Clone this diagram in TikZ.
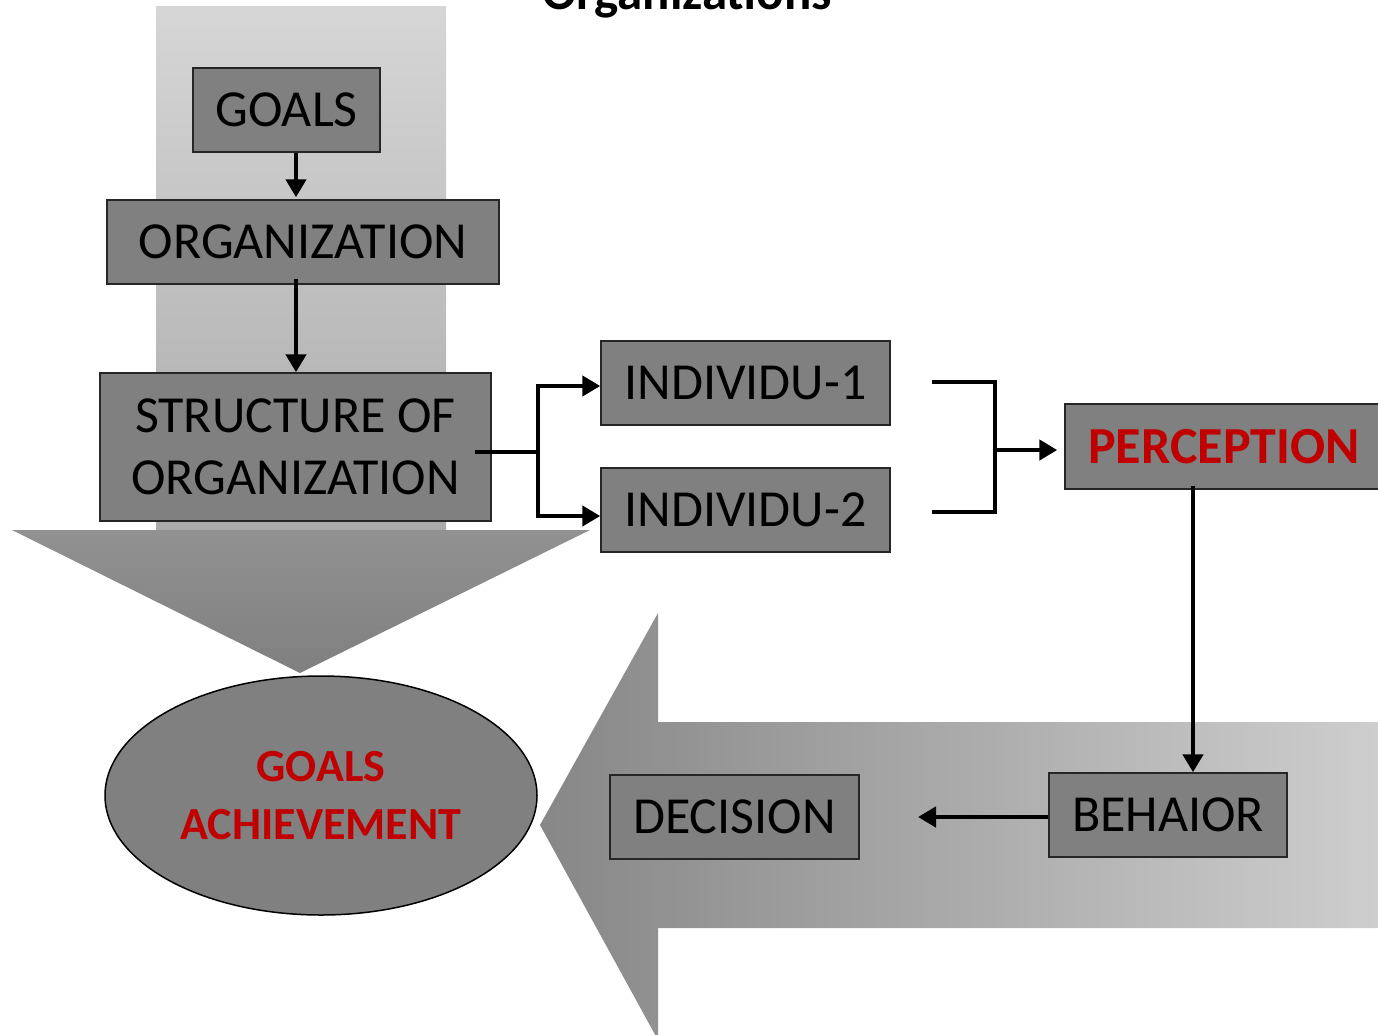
\documentclass[tikz,border=0pt]{standalone}
\usepackage{fontspec}
\setmainfont{Carlito}
\usetikzlibrary{arrows.meta,shapes.geometric}
\definecolor{boxgray}{HTML}{808080}
\definecolor{redtxt}{HTML}{C00000}
\newcommand\bxfont{\fontsize{52}{62}\selectfont}
\begin{document}
\begin{tikzpicture}[x=1pt,y=-1pt,
  bx/.style={draw=black!85, line width=1.5pt, fill=boxgray, inner sep=0pt, font=\bxfont, text=black},
  redbx/.style={bx, font=\bxfont\bfseries, text=redtxt},
  conn/.style={line width=4.5pt, draw=black, line join=miter},
  arr/.style={conn, -{Triangle[length=18pt,width=20pt]}}]
\useasboundingbox (0,0) rectangle (1378,1034);
\clip (0,0) rectangle (1378,1034);
% title (cut off at top, as in the reference)
\node[anchor=base, inner sep=0pt, font=\bfseries\fontsize{51}{60}\selectfont] (title) at (687,9) {Organizations};
% vertical big arrow (shaft + head)
\shade[top color=black!16, bottom color=black!33] (156,6) rectangle (446,530);
\shade[top color=black!43, bottom color=black!50] (12,530) -- (590,530) -- (300,673) -- cycle;
% horizontal big arrow pointing left
\shade[left color=black!47, right color=black!19]
  (1385,722) -- (658,722) -- (658,613) -- (540,825) -- (658,1040) -- (658,928) -- (1385,928) -- cycle;
% nodes
\node[bx, minimum width=187pt, minimum height=84pt] (goals) at (286.5,110) {GOALS};
\node[bx, minimum width=392pt, minimum height=84pt] (org) at (303,242) {ORGANIZATION};
\node[bx, minimum width=391pt, minimum height=148pt, align=center] (struct) at (295.5,447) {STRUCTURE OF\\ORGANIZATION};
\node[bx, minimum width=289pt, minimum height=84pt] (ind1) at (745.5,383) {INDIVIDU-1};
\node[bx, minimum width=289pt, minimum height=84pt] (ind2) at (745.5,510) {INDIVIDU-2};
\node[redbx, minimum width=318pt, minimum height=85pt] (perc) at (1224,446.5) {PERCEPTION};
\node[bx, minimum width=249pt, minimum height=84pt] (dec) at (734.5,817) {DECISION};
\node[bx, minimum width=238pt, minimum height=84pt] (beh) at (1168,815) {BEHAIOR};
\node[ellipse, draw=black, line width=1.5pt, fill=boxgray, inner sep=0pt,
  minimum width=432pt, minimum height=239pt, align=center,
  font=\bfseries\fontsize{46}{58}\selectfont, text=redtxt] (ach) at (321,795.5) {GOALS\\ACHIEVEMENT};
% helper coordinates
\coordinate (ax) at (296,0);
\coordinate (bx) at (995,0);
\coordinate (cx) at (1193,0);
\coordinate (dx) at (918,0);
% connectors
\draw[arr] (goals.south -| ax) -- ([yshift=2pt]org.north -| ax);
\draw[arr] ([yshift=6pt]org.south -| ax) -- (struct.north -| ax);
\draw[arr] ([xshift=-17pt,yshift=-5pt]struct.east) -- ++(63,0) |- ([yshift=-3pt]ind1.west);
\draw[arr] ([xshift=-17pt,yshift=-5pt]struct.east) -- ++(63,0) |- ([yshift=-6pt]ind2.west);
\draw[conn] ([xshift=41pt,yshift=1pt]ind1.east) -- ([yshift=1pt]bx |- ind1.east) -- ([yshift=-2pt]bx |- ind2.east) -- ([xshift=41pt,yshift=-2pt]ind2.east);
\draw[arr] ([yshift=-3.5pt]perc.west -| bx) -- ([xshift=-7pt,yshift=-3.5pt]perc.west);
\draw[arr] ([yshift=4pt]perc.south -| cx) -- (beh.north -| cx);
\draw[arr] ([yshift=-2pt]beh.west) -- ([yshift=-2pt]beh.west -| dx);
\end{tikzpicture}
\end{document}
